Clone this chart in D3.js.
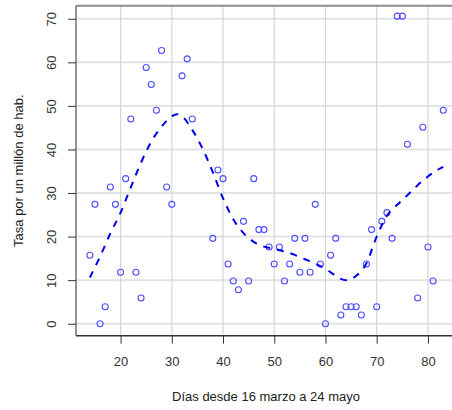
<!DOCTYPE html>
<html>
<head>
<meta charset="utf-8">
<script src="https://cdn.jsdelivr.net/npm/d3@7"></script>
<style>
  html, body { margin: 0; padding: 0; background: #ffffff; }
  svg { display: block; font-family: "Liberation Sans", Arial, sans-serif; }
</style>
</head>
<body>
<svg id="chart" width="452" height="410"></svg>
<script>
// ---- data ----
const days  = [14, 15, 16, 17, 18, 19, 20, 21, 22, 23, 24, 25, 26, 27, 28, 29, 30, 32, 33, 34,
               38, 39, 40, 41, 42, 43, 44, 45, 46, 47, 48, 49, 50, 51, 52, 53, 54, 55, 56, 57,
               58, 59, 60, 61, 62, 63, 64, 65, 66, 67, 68, 69, 70, 71, 72, 73, 74, 75, 76, 78,
               79, 80, 81, 83];
const rates = [15.7, 27.4, 0, 3.9, 31.4, 27.4, 11.8, 33.3, 47.0, 11.8, 5.9, 58.8, 54.9, 49.0, 62.7, 31.4, 27.4, 56.9, 60.8, 47.0,
               19.6, 35.3, 33.3, 13.7, 9.8, 7.8, 23.5, 9.8, 33.3, 21.6, 21.6, 17.6, 13.7, 17.6, 9.8, 13.7, 19.6, 11.8, 19.6, 11.8,
               27.4, 13.7, 0, 15.7, 19.6, 2.0, 3.9, 3.9, 3.9, 2.0, 13.7, 21.6, 3.9, 23.5, 25.5, 19.6, 70.6, 70.6, 41.2, 5.9,
               45.1, 17.6, 9.8, 49.0];
// smoothed trend (dashed curve)
const smoothDays = [14, 16, 18, 20, 22, 24, 26, 28, 30, 31, 32, 34, 36, 38, 40, 42, 44, 46, 48, 50,
                    52, 54, 56, 58, 60, 62, 63, 64, 66, 68, 70, 72, 74, 76, 78, 80, 82, 83];
const smoothVals = [10.6, 15.4, 20.7, 25.5, 31.3, 37.0, 41.8, 45.2, 47.6, 48.1, 47.6, 44.5, 40.2, 34.8, 28.8, 24.0, 20.8, 18.8, 17.7, 17.2,
                    16.6, 15.8, 14.8, 13.8, 12.6, 11.0, 10.3, 10.0, 11.0, 13.9, 20.0, 24.8, 27.3, 29.5, 31.8, 33.8, 35.4, 36.0];
const xTicks = [20, 30, 40, 50, 60, 70, 80];
const yTicks = [0, 10, 20, 30, 40, 50, 60, 70];
const xTitle = "Días desde 16 marzo a 24 mayo";
const yTitle = "Tasa por un millón de hab.";

// ---- layout ----
const svg = d3.select("#chart");
const pL = 76, pR = 452, pT = 5.7, pB = 335.7;
const x = d3.scaleLinear().domain([11.3, 84.7]).range([pL, pR]);
const y = d3.scaleLinear().domain([-2.75, 73]).range([pB, pT]);

// grid
const grid = svg.append("g");
grid.selectAll("line.h").data(yTicks).join("line")
  .attr("x1", pL).attr("x2", pR)
  .attr("y1", d => y(d)).attr("y2", d => y(d))
  .attr("stroke", "#e3e3e3").attr("stroke-width", 2);
grid.selectAll("line.v").data(xTicks).join("line")
  .attr("y1", pT).attr("y2", pB)
  .attr("x1", d => x(d)).attr("x2", d => x(d))
  .attr("stroke", "#d6d6d6").attr("stroke-width", 1.2);

// frame
svg.append("line").attr("x1", pL).attr("x2", pR).attr("y1", pT).attr("y2", pT)
  .attr("stroke", "#8c8c8c").attr("stroke-width", 2);
svg.append("line").attr("x1", pL).attr("x2", pL).attr("y1", pT).attr("y2", pB)
  .attr("stroke", "#707070").attr("stroke-width", 1.5);

// axes
const xAxis = svg.append("g").attr("transform", `translate(0,${pB})`)
  .call(d3.axisBottom(x).tickValues(xTicks).tickSize(8).tickPadding(13).tickFormat(d3.format("d")));
xAxis.select(".domain").attr("stroke", "#333").attr("stroke-width", 1.5)
  .attr("d", `M${pL},0H${pR}`);
xAxis.selectAll(".tick line").attr("stroke", "#333");
xAxis.selectAll(".tick text").attr("fill", "#333").attr("font-size", 13)
  .attr("font-family", "Liberation Sans, Arial, sans-serif");

const yAxis = svg.append("g").attr("transform", `translate(${pL},0)`)
  .call(d3.axisLeft(y).tickValues(yTicks).tickSize(8).tickPadding(0).tickFormat(d3.format("d")));
yAxis.select(".domain").remove();
yAxis.selectAll(".tick line").attr("stroke", "#333");
yAxis.selectAll(".tick text")
  .attr("fill", "#333").attr("font-size", 13)
  .attr("font-family", "Liberation Sans, Arial, sans-serif")
  .attr("x", 0).attr("dy", null)
  .attr("text-anchor", "middle")
  .attr("transform", "translate(-25,0) rotate(-90)")
  .attr("dominant-baseline", "central");

// titles
svg.append("text").attr("x", (pL + pR) / 2 + 2).attr("y", 401)
  .attr("text-anchor", "middle").attr("font-size", 13).attr("fill", "#222")
  .text(xTitle);
svg.append("text")
  .attr("transform", `translate(18,${(pT + pB) / 2}) rotate(-90)`)
  .attr("text-anchor", "middle").attr("dominant-baseline", "central")
  .attr("font-size", 13).attr("fill", "#222")
  .text(yTitle);

// points
svg.append("g").selectAll("circle").data(days.map((d, i) => [d, rates[i]])).join("circle")
  .attr("cx", d => x(d[0])).attr("cy", d => y(d[1])).attr("r", 3)
  .attr("fill", "none").attr("stroke", "#4d4dff").attr("stroke-width", 1.1);

// smooth curve
const line = d3.line().x(d => x(d[0])).y(d => y(d[1])).curve(d3.curveMonotoneX);
svg.append("path").datum(smoothDays.map((d, i) => [d, smoothVals[i]]))
  .attr("d", line).attr("fill", "none").attr("stroke", "#0000ee")
  .attr("stroke-width", 2).attr("stroke-dasharray", "7,7");
</script>
</body>
</html>
